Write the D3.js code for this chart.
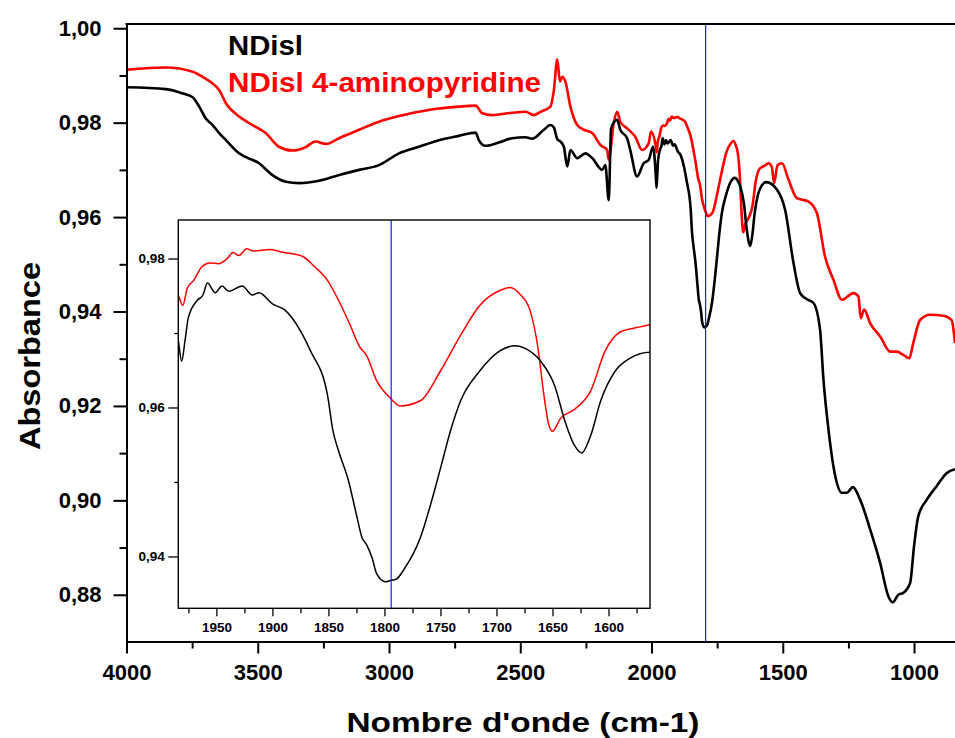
<!DOCTYPE html>
<html><head><meta charset="utf-8">
<script src="https://cdn.jsdelivr.net/npm/d3@7"></script>
<style>
html,body{margin:0;padding:0;background:#fff;}
svg{display:block;font-family:"Liberation Sans",Arial,sans-serif;font-weight:bold;}
</style></head>
<body>
<svg id="chart" width="955" height="738"></svg>
<script>
// ---- data ----
const blackWn = [4000,3850,3786,3748,3723,3698,3672,3647,3621,3571,3495,3444,3393,3343,3266,3190,3114,3038,2962,2886,2810,2734,2670,2658,2633,2582,2531,2480,2455,2410,2385,2372,2359,2347,2334,2321,2309,2283,2252,2226,2188,2176,2163,2154,2131,2119,2093,2081,2055,2030,2011,1994,
 1984,1981,1978,1975,1967,1962,1958,1951,1945,1939,1927,1918,1912,1900,1889,1875,1866,1851,1846,1841,1832,1825,1820,1816,1811,1807,1799,1794,1790,1782,1768,1758,1749,1741,1732,1715,1697,1683,1674,1661,1648,1639,1630,1624,1616,1607,1594,1581,1563,
 1522,1491,1459,1434,1408,1383,1358,1345,1326,1300,1275,1256,1233,1205,1167,1129,1098,1081,1060,1041,1015,1000,984,952,914,875,844];
const blackAbs = [0.9875,0.9871,0.9862,0.9854,0.9834,0.9809,0.9795,0.9778,0.9763,0.9735,0.9714,0.9689,0.9675,0.9672,0.9677,0.9689,0.9700,0.9710,0.9735,0.9749,0.9763,0.9772,0.9779,0.9763,0.9751,0.9758,0.9767,0.9769,0.9766,0.9785,0.9795,0.9790,0.9765,0.9760,0.9749,0.9707,0.9742,0.9725,0.9735,0.9725,0.9700,0.9710,0.9636,0.9788,0.9806,0.9785,0.9767,0.9742,0.9686,0.9714,0.9721,0.9749,
 0.9690,0.9662,0.9690,0.9721,0.9744,0.9751,0.9767,0.9754,0.9763,0.9756,0.9763,0.9751,0.9754,0.9739,0.9731,0.9703,0.9676,0.9618,0.9569,0.9542,0.9501,0.9456,0.9425,0.9416,0.9398,0.9377,0.9366,0.9368,0.9369,0.9384,0.9425,0.9474,0.9524,0.9569,0.9609,0.9649,0.9676,0.9683,0.9679,0.9663,0.9629,0.9582,0.9548,0.9539,0.9562,0.9609,0.9649,0.9666,0.9674,
 0.9658,0.9615,0.9502,0.9439,0.9426,0.9418,0.9361,0.9255,0.9150,0.9051,0.9016,0.9016,0.9028,0.9001,0.8938,0.8867,0.8797,0.8784,0.8800,0.8804,0.8825,0.8903,0.8966,0.9001,0.9030,0.9058,0.9066];

const redWn = [4000,3850,3748,3710,3672,3647,3621,3571,3520,3470,3419,3368,3318,3280,3241,3190,3114,3038,2962,2886,2810,2734,2670,2645,2607,2531,2480,2449,2423,2385,2372,2359,2349,2340,2328,2309,2283,2258,2226,2195,2169,2163,2144,2131,2119,2093,2062,2036,2011,2002,
 1984,1980,1976,1970,1963,1956,1948,1941,1935,1930,1923,1917,1902,1893,1881,1872,1863,1851,1841,1831,1822,1816,1807,1795,1786,1768,1750,1732,1715,1697,1688,1679,1670,1663,1658,1653,1650,1643,1630,1616,1603,1590,1576,1563,
 1555,1542,1533,1520,1503,1478,1446,1402,1370,1339,1307,1275,1231,1212,1203,1190,1167,1129,1091,1066,1041,1018,1003,977,939,889,857,844];
const redAbs = [0.9912,0.9917,0.9908,0.9897,0.9883,0.9869,0.9841,0.9813,0.9795,0.9778,0.9749,0.9741,0.9748,0.9760,0.9755,0.9767,0.9785,0.9802,0.9814,0.9823,0.9830,0.9834,0.9836,0.9820,0.9816,0.9821,0.9823,0.9816,0.9823,0.9834,0.9869,0.9934,0.9887,0.9897,0.9887,0.9834,0.9795,0.9785,0.9778,0.9753,0.9742,0.9721,0.9799,0.9823,0.9802,0.9788,0.9770,0.9742,0.9756,0.9781,
 0.9751,0.9737,0.9760,0.9771,0.9789,0.9794,0.9793,0.9799,0.9808,0.9804,0.9813,0.9810,0.9812,0.9809,0.9806,0.9802,0.9790,0.9771,0.9744,0.9712,0.9681,0.9670,0.9636,0.9613,0.9602,0.9609,0.9649,0.9697,0.9737,0.9757,0.9761,0.9752,0.9730,0.9680,0.9620,0.9575,0.9568,0.9585,0.9598,0.9622,0.9676,0.9701,0.9707,0.9711,
 0.9714,0.9707,0.9672,0.9710,0.9714,0.9679,0.9640,0.9633,0.9608,0.9516,0.9467,0.9425,0.9439,0.9432,0.9386,0.9404,0.9375,0.9347,0.9315,0.9315,0.9308,0.9301,0.9333,0.9382,0.9393,0.9391,0.9382,0.9333];

const seriesNames = ["NDisl", "NDisl 4-aminopyridine"];
const mainXTicks = [4000,3500,3000,2500,2000,1500,1000];
const mainXMinor = [3750,3250,2750,2250,1750,1250];
const mainYTicks = [0.88,0.90,0.92,0.94,0.96,0.98,1.00];
const mainYMinor = [0.89,0.91,0.93,0.95,0.97,0.99];
const insetXTicks = [1950,1900,1850,1800,1750,1700,1650,1600];
const insetXMinor = [1975,1925,1875,1825,1775,1725,1675,1625,1575];
const insetYTicks = [0.94,0.96,0.98];
const insetYMinor = [0.95,0.97];
const markerWn = 1794;
const xTitle = "Nombre d'onde (cm-1)";
const yTitle = "Absorbance";

// ---- layout ----
const svg = d3.select("#chart");
const M = {left:126.5, right:955, top:24, bottom:641.5};
const x = d3.scaleLinear().domain([4000, 844]).range([M.left, M.right]);
const y = d3.scaleLinear().domain([0.8701, 1.0009]).range([M.bottom, M.top]);

const I = {left:178.3, right:650, top:220, bottom:608.3};
const xi = d3.scaleLinear().domain([1984, 1563]).range([I.left, I.right]);
const yi = d3.scaleLinear().domain([0.93304, 0.98517]).range([I.bottom, I.top]);

const fmt = d => d.toFixed(2).replace(".", ",");
const black = blackWn.map((w,i)=>[w, blackAbs[i]]);
const red = redWn.map((w,i)=>[w, redAbs[i]]);

const defs = svg.append("defs");
defs.append("clipPath").attr("id","clipMain").append("rect")
  .attr("x",M.left).attr("y",M.top).attr("width",M.right-M.left).attr("height",M.bottom-M.top);
defs.append("clipPath").attr("id","clipInset").append("rect")
  .attr("x",I.left).attr("y",I.top).attr("width",I.right-I.left).attr("height",I.bottom-I.top);

// main curves
const lineMain = d3.line().x(d=>x(d[0])).y(d=>y(d[1])).curve(d3.curveMonotoneX);
const gMain = svg.append("g").attr("clip-path","url(#clipMain)");
gMain.append("path").datum(red).attr("d",lineMain).attr("fill","none").attr("stroke","#ff0000").attr("stroke-width",2.6).attr("stroke-linejoin","round");
gMain.append("path").datum(black).attr("d",lineMain).attr("fill","none").attr("stroke","#000").attr("stroke-width",2.6).attr("stroke-linejoin","round");
gMain.append("line").attr("x1",x(markerWn)).attr("x2",x(markerWn)).attr("y1",M.top).attr("y2",M.bottom)
  .attr("stroke","#1a1aff").attr("stroke-width",1.2);

// main axes
const axY = svg.append("g").attr("transform",`translate(${M.left},0)`)
  .call(d3.axisLeft(y).tickValues(mainYTicks).tickSize(13).tickSizeOuter(0).tickPadding(12).tickFormat(fmt));
svg.append("g").attr("transform",`translate(${M.left},0)`)
  .call(d3.axisLeft(y).tickValues(mainYMinor).tickSize(7).tickSizeOuter(0).tickFormat(""))
  .select(".domain").remove();
const axX = svg.append("g").attr("transform",`translate(0,${M.bottom})`)
  .call(d3.axisBottom(x).tickValues(mainXTicks).tickSize(12).tickSizeOuter(0).tickPadding(11).tickFormat(d3.format("d")));
svg.append("g").attr("transform",`translate(0,${M.bottom})`)
  .call(d3.axisBottom(x).tickValues(mainXMinor).tickSize(7).tickSizeOuter(0).tickFormat(""))
  .select(".domain").remove();
svg.selectAll(".domain, .tick line").attr("stroke","#000").attr("stroke-width",2);
axY.selectAll("text").attr("font-size",22).attr("font-weight","bold").attr("font-family","Liberation Sans, Arial, sans-serif").attr("fill","#000");
axX.selectAll("text").attr("font-size",22).attr("font-weight","bold").attr("font-family","Liberation Sans, Arial, sans-serif").attr("fill","#000");
svg.append("line").attr("x1",M.left-1).attr("x2",M.right).attr("y1",M.top).attr("y2",M.top).attr("stroke","#000").attr("stroke-width",2);

// titles
svg.append("text").attr("x",523).attr("y",731.5).attr("text-anchor","middle")
  .attr("font-size",28).attr("textLength",353).attr("lengthAdjust","spacingAndGlyphs").text(xTitle);
svg.append("text").attr("transform","translate(40,356) rotate(-90)").attr("text-anchor","middle")
  .attr("font-size",30).attr("textLength",188).attr("lengthAdjust","spacingAndGlyphs").text(yTitle);

// legend
svg.append("text").attr("x",228).attr("y",55).attr("font-size",28).attr("fill","#000")
  .attr("textLength",75).attr("lengthAdjust","spacingAndGlyphs").text(seriesNames[0]);
svg.append("text").attr("x",228).attr("y",91.5).attr("font-size",28).attr("fill","#ff0000")
  .attr("textLength",313).attr("lengthAdjust","spacingAndGlyphs").text(seriesNames[1]);

// inset
svg.append("rect").attr("x",I.left).attr("y",I.top).attr("width",I.right-I.left).attr("height",I.bottom-I.top)
  .attr("fill","#fff").attr("stroke","none");
const lineInset = d3.line().x(d=>xi(d[0])).y(d=>yi(d[1])).curve(d3.curveMonotoneX);
const gIn = svg.append("g").attr("clip-path","url(#clipInset)");
gIn.append("path").datum(red).attr("d",lineInset).attr("fill","none").attr("stroke","#ff0000").attr("stroke-width",1.5);
gIn.append("path").datum(black).attr("d",lineInset).attr("fill","none").attr("stroke","#000").attr("stroke-width",1.5);
gIn.append("line").attr("x1",xi(markerWn)).attr("x2",xi(markerWn)).attr("y1",I.top).attr("y2",I.bottom)
  .attr("stroke","#1a1aff").attr("stroke-width",1.2);
svg.append("rect").attr("x",I.left).attr("y",I.top).attr("width",I.right-I.left).attr("height",I.bottom-I.top)
  .attr("fill","none").attr("stroke","#000").attr("stroke-width",1.4);

const iy = svg.append("g").attr("transform",`translate(${I.left},0)`)
  .call(d3.axisLeft(yi).tickValues(insetYTicks).tickSize(10).tickSizeOuter(0).tickPadding(3.5).tickFormat(fmt));
const iym = svg.append("g").attr("transform",`translate(${I.left},0)`)
  .call(d3.axisLeft(yi).tickValues(insetYMinor).tickSize(4).tickSizeOuter(0).tickFormat(""));
const ix = svg.append("g").attr("transform",`translate(0,${I.bottom})`)
  .call(d3.axisBottom(xi).tickValues(insetXTicks).tickSize(8).tickSizeOuter(0).tickPadding(6).tickFormat(d3.format("d")));
const ixm = svg.append("g").attr("transform",`translate(0,${I.bottom})`)
  .call(d3.axisBottom(xi).tickValues(insetXMinor).tickSize(5).tickSizeOuter(0).tickFormat(""));
[iy,iym,ix,ixm].forEach(g=>{ g.select(".domain").remove(); g.selectAll(".tick line").attr("stroke","#000").attr("stroke-width",1.3); });
[iy,ix].forEach(g=>g.selectAll("text").attr("font-size",13.5).attr("font-weight","bold").attr("font-family","Liberation Sans, Arial, sans-serif").attr("fill","#000"));
</script>
</body></html>
